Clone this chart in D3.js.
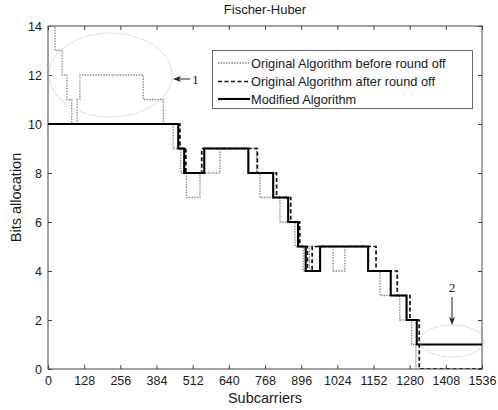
<!DOCTYPE html>
<html>
<head>
<meta charset="utf-8">
<script src="https://cdn.jsdelivr.net/npm/d3@7/dist/d3.min.js"></script>
<style>
  html, body { margin: 0; padding: 0; background: #fff; }
  svg { display: block; font-family: "Liberation Sans", Arial, sans-serif; }
</style>
</head>
<body>
<svg id="chart" width="498" height="410"></svg>
<script>
// ---- Data ----
const xTicks = [0, 128, 256, 384, 512, 640, 768, 896, 1024, 1152, 1280, 1408, 1536];
const yTicks = [0, 2, 4, 6, 8, 10, 12, 14];

// Step series: start subcarrier of each step and its bit allocation
const beforeStarts = [0, 25, 50, 67, 84, 103, 113, 337, 408, 443, 470, 490, 538, 609, 738, 750, 821, 874, 903, 925, 1009, 1051, 1133, 1175, 1245, 1287, 1302];
const beforeBits   = [14, 13, 12, 11, 10, 11, 12, 11, 10, 9, 8, 7, 8, 9, 8, 7, 6, 5, 4, 5, 4, 5, 4, 3, 2, 1, 0];

const afterStarts = [0, 467, 488, 544, 741, 809, 859, 891, 918, 935, 1161, 1236, 1281, 1314];
const afterBits   = [10, 9, 8, 9, 8, 7, 6, 5, 4, 5, 4, 3, 2, 0];

const modStarts = [0, 461, 482, 553, 709, 797, 850, 885, 912, 963, 1133, 1213, 1269, 1305];
const modBits   = [10, 9, 8, 9, 8, 7, 6, 5, 4, 5, 4, 3, 2, 1];

const xMax = 1536;

const legendLabels = ["Original Algorithm before round off", "Original Algorithm after round off", "Modified Algorithm"];

// ---- Layout ----
const svg = d3.select("#chart");
const mLeft = 48, mRight = 482, mTop = 26, mBottom = 369;

const x = d3.scaleLinear().domain([0, 1536]).range([mLeft, mRight]);
const y = d3.scaleLinear().domain([0, 14]).range([mBottom, mTop]);

const axisColor = "#444";
const textColor = "#1a1a1a";

// clip
svg.append("defs").append("clipPath").attr("id", "clip")
  .append("rect").attr("x", mLeft).attr("y", mTop).attr("width", mRight - mLeft).attr("height", mBottom - mTop);

// Title
svg.append("text").attr("x", (mLeft + mRight) / 2).attr("y", 14)
  .attr("text-anchor", "middle").attr("font-size", 13).attr("fill", textColor)
  .text("Fischer-Huber");

// Axes (ticks inward on all four sides)
const tickLen = 4;
const gx = svg.append("g").attr("transform", `translate(0,${mBottom})`)
  .call(d3.axisBottom(x).tickValues(xTicks).tickSize(-tickLen).tickPadding(7).tickFormat(d3.format("d")));
const gxTop = svg.append("g").attr("transform", `translate(0,${mTop})`)
  .call(d3.axisTop(x).tickValues(xTicks).tickSize(-tickLen).tickFormat(""));
const gy = svg.append("g").attr("transform", `translate(${mLeft},0)`)
  .call(d3.axisLeft(y).tickValues(yTicks).tickSize(-tickLen).tickPadding(6).tickFormat(d3.format("d")));
const gyRight = svg.append("g").attr("transform", `translate(${mRight},0)`)
  .call(d3.axisRight(y).tickValues(yTicks).tickSize(-tickLen).tickFormat(""));

[gx, gxTop, gy, gyRight].forEach(g => {
  g.select(".domain").remove();
  g.selectAll(".tick line").attr("stroke", axisColor);
  g.selectAll(".tick text").attr("fill", textColor).attr("font-size", 12.5)
    .attr("font-family", "'Liberation Sans', Arial, sans-serif");
});

// Box
svg.append("rect").attr("x", mLeft).attr("y", mTop).attr("width", mRight - mLeft).attr("height", mBottom - mTop)
  .attr("fill", "none").attr("stroke", axisColor).attr("stroke-width", 1);

// Axis labels
svg.append("text").attr("x", (mLeft + mRight) / 2).attr("y", 403)
  .attr("text-anchor", "middle").attr("font-size", 14.5).attr("fill", textColor).text("Subcarriers");
svg.append("text").attr("transform", `translate(21,${(mTop + mBottom) / 2}) rotate(-90)`)
  .attr("text-anchor", "middle").attr("font-size", 14.5).attr("fill", textColor).text("Bits allocation");

// Step lines
function stepPoints(starts, vals) {
  const pts = starts.map((s, i) => [s, vals[i]]);
  pts.push([xMax, vals[vals.length - 1]]);
  return pts;
}
const line = d3.line().x(d => x(d[0])).y(d => y(d[1])).curve(d3.curveStepAfter);

const plot = svg.append("g").attr("clip-path", "url(#clip)");

plot.append("path").datum(stepPoints(beforeStarts, beforeBits))
  .attr("d", line).attr("fill", "none").attr("stroke", "#8a8a8a")
  .attr("stroke-width", 1.3).attr("stroke-dasharray", "1.5,1.2");

plot.append("path").datum(stepPoints(afterStarts, afterBits))
  .attr("d", line).attr("fill", "none").attr("stroke", "#111")
  .attr("stroke-width", 1.7).attr("stroke-dasharray", "4,2.5");

plot.append("path").datum(stepPoints(modStarts, modBits))
  .attr("d", line).attr("fill", "none").attr("stroke", "#000")
  .attr("stroke-width", 2.1);

// Annotation ellipses
const ann = svg.append("g");
ann.append("ellipse").attr("cx", x(221)).attr("cy", y(12))
  .attr("rx", x(218) - x(0)).attr("ry", y(0) - y(1.71))
  .attr("fill", "none").attr("stroke", "#aaa").attr("stroke-width", 0.9).attr("stroke-dasharray", "1,1.2");
ann.append("ellipse").attr("cx", x(1430)).attr("cy", y(1.14))
  .attr("rx", x(113) - x(0)).attr("ry", y(0) - y(0.65))
  .attr("fill", "none").attr("stroke", "#aaa").attr("stroke-width", 0.9).attr("stroke-dasharray", "1,1.2");

// Arrow 1
const a1y = y(12) + 4;
ann.append("line").attr("x1", 190).attr("y1", a1y).attr("x2", 175).attr("y2", a1y)
  .attr("stroke", "#222").attr("stroke-width", 1);
ann.append("path").attr("d", `M173,${a1y} L181,${a1y - 3} L179,${a1y} L181,${a1y + 3} Z`).attr("fill", "#222");
ann.append("text").attr("x", 192).attr("y", a1y + 5).attr("font-family", "'Liberation Serif', 'Times New Roman', serif")
  .attr("font-size", 13.5).attr("fill", "#222").text("1");

// Arrow 2
const a2x = x(1430);
ann.append("line").attr("x1", a2x).attr("y1", 297).attr("x2", a2x).attr("y2", 322)
  .attr("stroke", "#222").attr("stroke-width", 1);
ann.append("path").attr("d", `M${a2x},325 L${a2x - 3},317 L${a2x},319 L${a2x + 3},317 Z`).attr("fill", "#222");
ann.append("text").attr("x", a2x).attr("y", 292).attr("text-anchor", "middle")
  .attr("font-family", "'Liberation Serif', 'Times New Roman', serif")
  .attr("font-size", 13.5).attr("fill", "#222").text("2");

// Legend
const lg = svg.append("g");
lg.append("rect").attr("x", 212.5).attr("y", 50.5).attr("width", 260).attr("height", 58)
  .attr("fill", "#fff").attr("stroke", "#666").attr("stroke-width", 1);
const legendStyles = [
  { stroke: "#8a8a8a", w: 1.3, dash: "1.5,1.2" },
  { stroke: "#111", w: 1.7, dash: "4,2.5" },
  { stroke: "#000", w: 2.1, dash: null }
];
const rowsY = [63, 81.5, 99];
legendLabels.forEach((lab, i) => {
  const l = lg.append("line").attr("x1", 218).attr("x2", 250).attr("y1", rowsY[i]).attr("y2", rowsY[i])
    .attr("stroke", legendStyles[i].stroke).attr("stroke-width", legendStyles[i].w);
  if (legendStyles[i].dash) l.attr("stroke-dasharray", legendStyles[i].dash);
  lg.append("text").attr("x", 251).attr("y", rowsY[i] + 4.5).attr("font-size", 12.8).attr("fill", textColor).text(lab);
});
</script>
</body>
</html>
